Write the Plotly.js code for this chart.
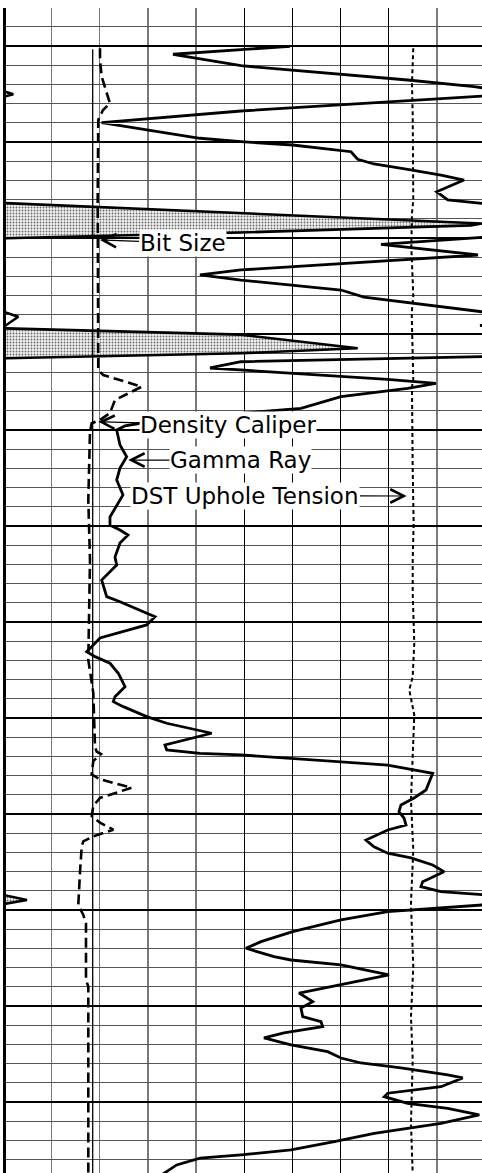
<!DOCTYPE html>
<html>
<head>
<meta charset="utf-8">
<script src="https://cdn.plot.ly/plotly-3.0.1.min.js"></script>
<style>
html,body{margin:0;padding:0;background:#fff;overflow:hidden;}
#chart{width:482px;height:1173px;}
</style>
</head>
<body>
<div id="chart"></div>
<script>
// ---- Gamma Ray (main scale 0-100; values >100 run off the right edge) ----
const grDepth = [1010.03,1010.86,1012.05,1013.54,1014.24,1014.58,1015.10,1015.21,1016.77,1017.99,
  1019.61,1019.97,1020.31,1021.01,1021.80,1022.29,1022.84,1023.44,1023.96,1025.18,
  1026.04,1026.39,1026.46,1029.79,1029.93,1030.66,1031.77,1033.33,1033.85,1034.38,
  1035.42,1036.15,1037.68,1037.76,1038.96,1039.11,1039.32,1042.29,1042.36,1042.89,
  1043.54,1043.75,1044.72,1045.14,1045.66,1046.53,1047.74,1048.26,1048.96,1049.58,
  1050.00,1051.56,1052.78,1053.96,1055.21,1056.77,1057.60,1059.06,1059.90,1060.42,
  1060.94,1061.77,1063.23,1064.06,1065.63,1067.36,1067.89,1069.45,1070.31,1071.67,
  1073.09,1073.61,1074.30,1075.34,1076.74,1077.78,1078.30,1078.82,1079.86,1080.55,
  1081.59,1082.81,1083.33,1083.68,1083.85,1084.90,1085.76,1086.77,1087.50,1088.33,
  1089.06,1089.76,1090.42,1091.15,1091.67,1092.71,1093.41,1094.09,1094.58,1095.31,
  1096.01,1097.05,1097.57,1098.09,1098.44,1098.54,1099.38,1099.48,1100.18,1101.04,
  1102.26,1103.30,1103.99,1104.86,1105.21,1105.73,1106.77,1107.64,1108.65,1109.55,
  1110.21,1111.11,1111.64,1112.16,1112.81,1113.33,1114.06,1114.76,1115.42,1115.94,
  1116.46,1117.19,1117.50,1118.41,1119.09,1119.45,1120.14,1120.66,1121.35,1122.22,
  1123.26,1124.14,1125.00,1125.52,1125.86,1126.56,1127.26,1127.71];
const grValue = [59.5,35.20,49.31,83.93,97.70,103.1,103.1,99.36,49.31,20.39,
  40.80,49.31,60.05,72.16,73.55,76.93,83.93,90.84,95.62,89.95,
  92.24,99.36,103.1,103.1,99.36,78.39,98.53,49.31,40.80,49.31,
  70.08,74.85,99.36,103.1,103.1,98.94,103.1,103.1,99.36,49.31,
  42.88,49.31,79.78,89.80,83.93,70.08,61.77,49.31,32.50,25.23,
  23.50,24.19,25.58,24.19,23.50,24.81,23.78,22.11,22.11,24.19,
  25.85,24.19,23.15,23.50,20.39,21.43,24.19,31.46,29.73,20.04,
  17.28,19.00,22.11,23.84,25.23,23.15,22.80,24.88,29.73,33.89,
  43.23,33.53,33.89,40.80,49.31,79.78,89.12,88.35,87.73,85.24,
  82.54,82.12,83.16,83.58,79.78,75.27,76.93,79.78,84.61,89.12,
  91.47,87.04,86.69,90.84,99.36,103.1,103.1,99.36,79.78,70.08,
  60.05,53.47,50.35,56.17,59.70,70.08,80.05,71.48,61.36,64.20,
  61.77,62.13,65.93,66.28,58.24,54.09,59.70,67.32,70.08,74.23,
  82.54,92.24,95.35,90.84,79.78,79.07,83.93,92.24,98.80,90.84,
  76.99,68.69,59.70,49.31,40.80,35.96,33.89,32.50];

// ---- Gamma Ray backup (wrapped) segments, value - 100 ----
const backA_depth = [1014.70,1015.03,1015.30];
const backA_value = [0,2.03,0];
const backB_depth = [1026.35,1027.43,1028.49,1028.68,1029.43,1030.03];
const backB_value = [0,49.31,99.36,97.07,49.31,0];
const backC_depth = [1037.68,1038.20,1039.27];
const backC_value = [0,3.07,0];
const backD_depth = [1039.41,1040.07,1041.49,1042.01,1042.53];
const backD_value = [0,49.31,73.55,49.31,0];
const backE_depth = [1098.44,1098.96,1099.38];
const backE_value = [0,4.88,0];

// ---- Density caliper ----
const calDepth = [1010.24,1011.46,1013.20,1015.97,1016.67,1017.71,1026.04,1036.46,1043.75,1044.27,
  1045.49,1046.88,1048.23,1048.96,1049.30,1050.18,1057.29,1063.54,1073.96,1077.40,
  1082.99,1083.51,1083.75,1084.48,1085.86,1086.39,1087.27,1088.32,1089.17,1090.21,
  1090.91,1091.64,1092.33,1092.86,1093.37,1096.14,1099.48,1100.52,1101.39,1107.29,
  1107.99,1127.5];
const calValue = [20.04,20.04,20.39,22.11,20.66,19.68,19.56,19.56,19.68,20.72,
  28.70,23.15,22.11,20.04,18.31,17.96,17.61,17.96,17.61,18.65,
  19.00,19.35,20.25,18.65,18.31,20.04,26.62,20.04,18.65,18.31,
  20.04,22.80,18.65,16.57,16.24,15.88,15.53,16.57,17.13,17.13,
  17.61,17.61];

// ---- Bit size ----
const bitDepth = [1010.34,1127.5];
const bitValue = [18.52,18.52];

// ---- DST uphole tension ----
const dstDepth = [1010.24,1013.89,1017.19,1026.04,1027.40,1030.91,1034.38,1036.11,1037.81,1039.58,
  1044.79,1045.49,1047.19,1054.17,1059.72,1063.54,1066.98,1072.19,1075.70,1077.08,
  1079.69,1084.38,1088.54,1093.75,1099.27,1105.91,1108.65,1111.11,1115.63,1122.22,1127.5];
const dstValue = [85.09,84.82,84.97,85.09,84.82,84.68,84.97,85.09,84.76,84.82,
  85.09,84.82,84.82,84.97,85.17,84.97,84.97,85.30,84.97,84.26,
  85.30,84.97,84.61,85.09,84.61,85.09,84.82,84.61,84.97,84.61,84.97];

// ---- labels ----
const labels = ["Bit Size","Density Caliper","Gamma Ray","DST Uphole Tension"];
const labelTipValue = [20.04,19.69,25.91,83.72];
const labelTipDepth = [1030.21,1049.14,1053.13,1056.88];

const pattern = {shape:'.', fgcolor:'#6a6a6a', bgcolor:'#f2f2f2', size:3, solidity:0.3};
function backup(d, v, filled){
  return {x:v, y:d, type:'scatter', mode:'lines', hoverinfo:'skip',
    line:{color:'#000', width:2.6},
    fill: filled ? 'tozerox' : 'none',
    fillcolor:'#c8c8c8', fillpattern: filled ? pattern : undefined, showlegend:false};
}

const traces = [
  backup(backA_depth, backA_value, true),
  backup(backB_depth, backB_value, true),
  backup(backC_depth, backC_value, false),
  backup(backD_depth, backD_value, true),
  backup(backE_depth, backE_value, true),
  {x:bitValue, y:bitDepth, type:'scatter', mode:'lines', line:{color:'#000', width:1.3}, showlegend:false},
  {x:dstValue, y:dstDepth, type:'scatter', mode:'lines', line:{color:'#000', width:2, dash:'4px,3px'}, showlegend:false},
  {x:calValue, y:calDepth, type:'scatter', mode:'lines', line:{color:'#000', width:2.6, dash:'10px,5px'}, showlegend:false},
  {x:grValue, y:grDepth, type:'scatter', mode:'lines', line:{color:'#000', width:2.8}, showlegend:false}
];

const offsets = [[82.5,3],[129.7,3.3],[112.2,0],[-161.2,-0.5]];
const annotations = labels.map((t,i)=>({
  x:labelTipValue[i], y:labelTipDepth[i], xref:'x', yref:'y',
  text:t, showarrow:true, ax:offsets[i][0], ay:offsets[i][1],
  arrowhead:5, arrowsize:2.2, arrowwidth:1.2, arrowcolor:'#000',
  font:{family:'DejaVu Sans', size:23, color:'#000'},
  bgcolor:'#fff', borderpad:0
}));

const layout = {
  width:482, height:1173,
  margin:{l:6, r:0, t:8, b:0, pad:0},
  paper_bgcolor:'#fff', plot_bgcolor:'#fff',
  showlegend:false,
  xaxis:{range:[0.52,99.36], showticklabels:false, ticks:'', zeroline:false, showline:false,
    tickmode:'array', tickvals:[50,60,70,80], showgrid:true, gridcolor:'#000', gridwidth:1.3,
    minor:{tickmode:'array', tickvals:[10,20,30,40,90], showgrid:true, gridcolor:'#7a7a7a', gridwidth:1.3, ticks:''}},
  yaxis:{range:[1127.40,1006.04], showticklabels:false, ticks:'', zeroline:false,
    showline:true, linecolor:'#000', linewidth:3.5,
    tick0:1010, dtick:10, showgrid:true, gridcolor:'#000', gridwidth:2.7,
    minor:{tick0:1010, dtick:2, showgrid:true, gridcolor:'#555', gridwidth:1.3, ticks:''}},
  annotations:annotations
};

Plotly.newPlot('chart', traces, layout, {staticPlot:true, displayModeBar:false});
</script>
</body>
</html>
